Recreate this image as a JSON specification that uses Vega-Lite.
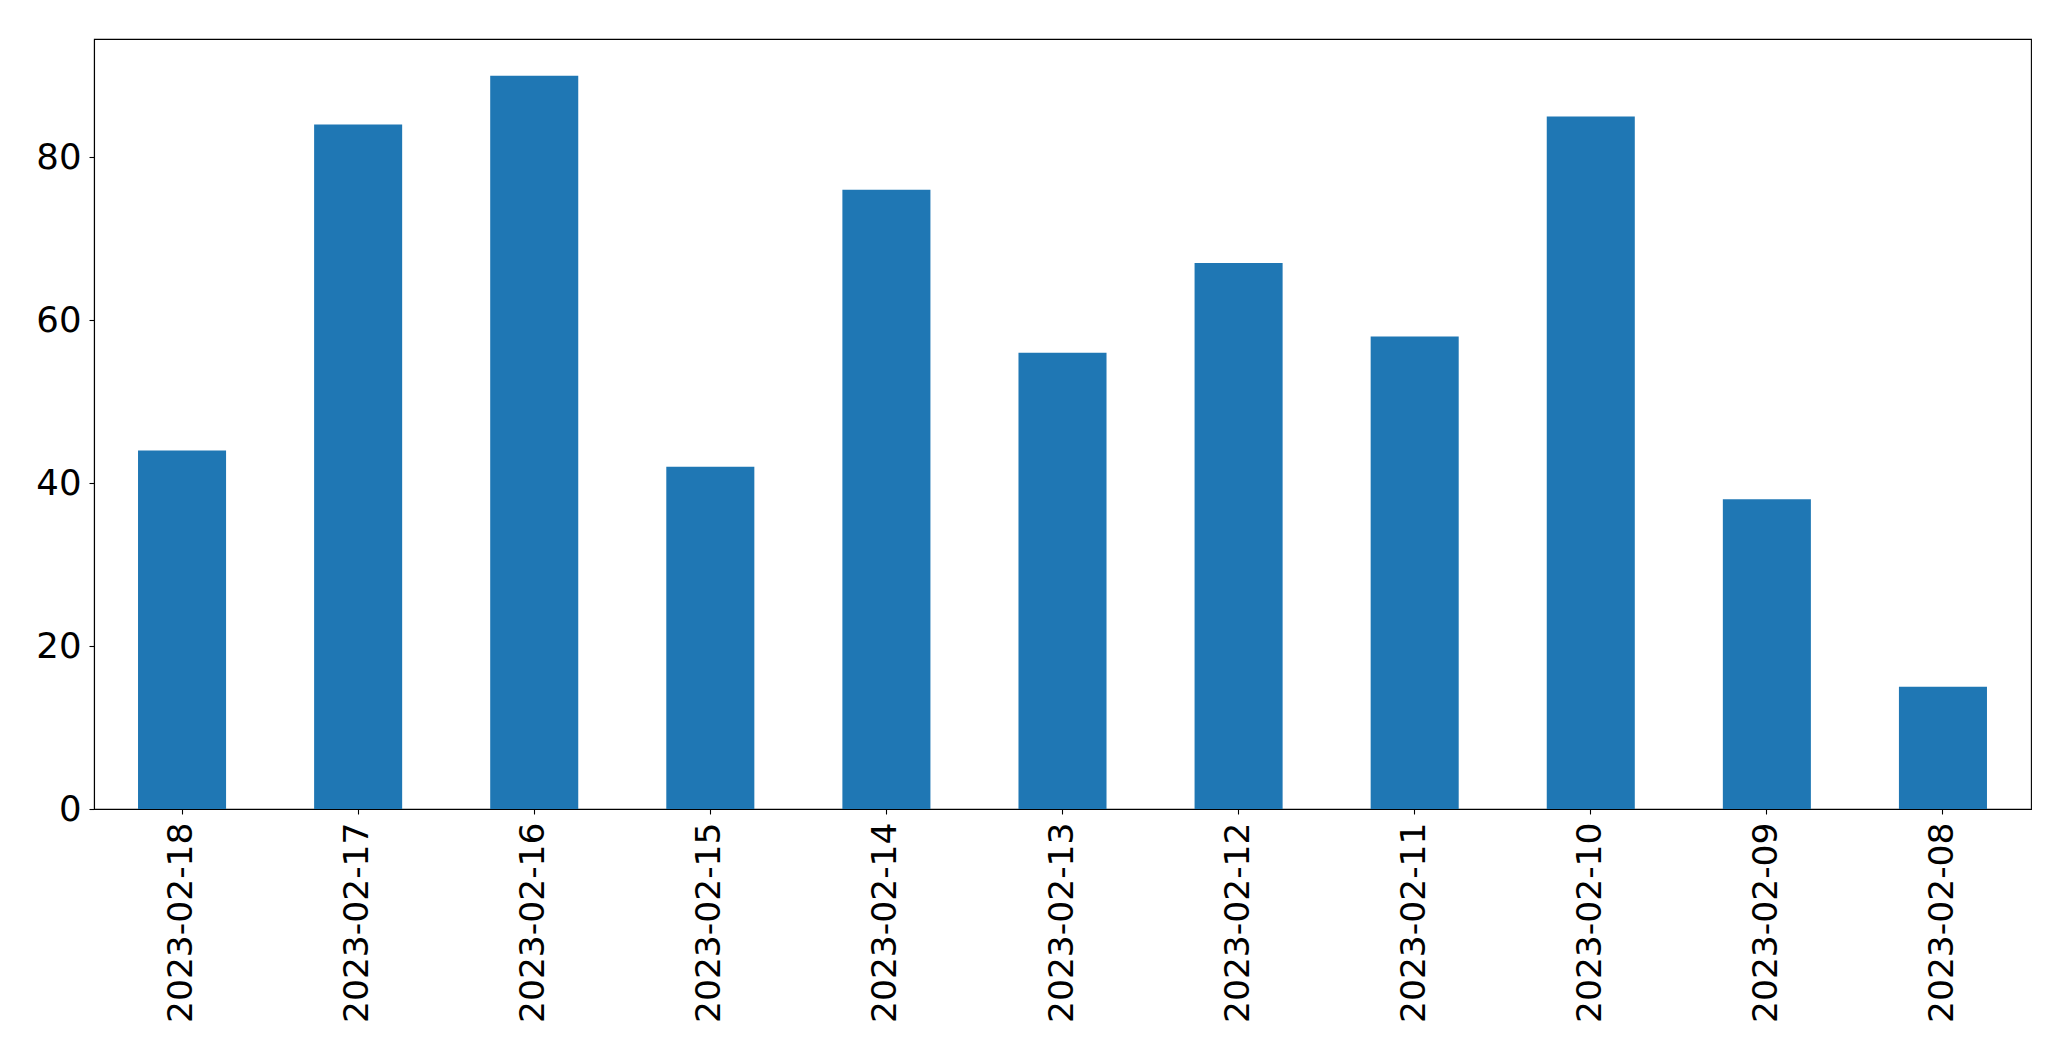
{
  "$schema": "https://vega.github.io/schema/vega-lite/v6.json",
  "width": 1937,
  "height": 770,
  "autosize": {"type": "none"},
  "padding": {"left": 94, "top": 39, "right": 40, "bottom": 252},
  "background": "white",
  "config": {
    "view": {"stroke": "black", "strokeWidth": 1.1},
    "font": "DejaVu Sans"
  },
  "data": {
    "values": [
      {"date": "2023-02-18", "value": 44},
      {"date": "2023-02-17", "value": 84},
      {"date": "2023-02-16", "value": 90},
      {"date": "2023-02-15", "value": 42},
      {"date": "2023-02-14", "value": 76},
      {"date": "2023-02-13", "value": 56},
      {"date": "2023-02-12", "value": 67},
      {"date": "2023-02-11", "value": 58},
      {"date": "2023-02-10", "value": 85},
      {"date": "2023-02-09", "value": 38},
      {"date": "2023-02-08", "value": 15}
    ]
  },
  "mark": {"type": "bar", "color": "#1f77b4"},
  "encoding": {
    "x": {
      "field": "date",
      "type": "nominal",
      "sort": null,
      "scale": {"paddingInner": 0.5, "paddingOuter": 0.25},
      "axis": {
        "title": null,
        "labelAngle": -90,
        "labelFont": "DejaVu Sans",
        "labelFontSize": 34.5,
        "labelColor": "black",
        "labelPadding": 8,
        "labelLimit": 0,
        "labelOverlap": false,
        "tickColor": "black",
        "tickSize": 5,
        "tickWidth": 1.1,
        "domainColor": "black",
        "domainWidth": 1.1,
        "grid": false
      }
    },
    "y": {
      "field": "value",
      "type": "quantitative",
      "scale": {"domain": [0, 94.5], "nice": false},
      "axis": {
        "title": null,
        "values": [0, 20, 40, 60, 80],
        "labelFont": "DejaVu Sans",
        "labelFontSize": 35.5,
        "labelColor": "black",
        "labelPadding": 8,
        "tickColor": "black",
        "tickSize": 5,
        "tickWidth": 1.1,
        "domainColor": "black",
        "domainWidth": 1.1,
        "grid": false
      }
    }
  }
}
